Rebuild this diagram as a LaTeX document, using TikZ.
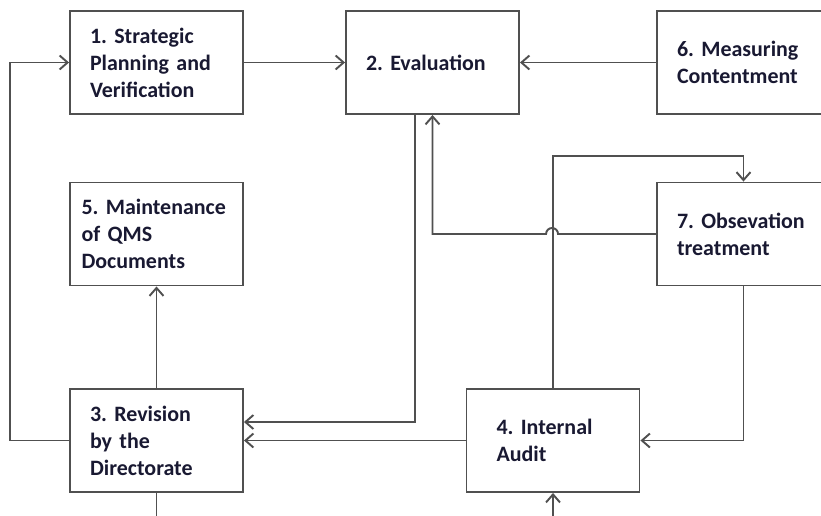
\documentclass[tikz,border=0pt]{standalone}
\usepackage{fontspec}
\setmainfont{Carlito}
\usetikzlibrary{arrows.meta}
\definecolor{linegray}{RGB}{80,80,80}
\definecolor{textnavy}{RGB}{25,25,50}
\frenchspacing
\hyphenpenalty=10000

\begin{document}
\begin{tikzpicture}[
  x=0.02cm, y=-0.02cm,
  box/.style={rectangle, draw=linegray, line width=1.1pt, align=left, text width=2.66cm, inner xsep=0.4cm, minimum height=2.06cm, font=\bfseries\fontsize{12.5}{15.3}\selectfont, text=textnavy},
  arr/.style={-{Straight Barb[length=1.6mm,width=2.8mm]}, line width=1.1pt, draw=linegray},
  line/.style={line width=1.1pt, draw=linegray}
]
\useasboundingbox (0,0) rectangle (821,515);
\clip (0,0) rectangle (821,515);

\node[box] (plan) at (156.5,62.5) {1. Strategic\\Planning and\\Verification};
\node[box] (eval) at (432.5,62.5) {2. Evaluation};
\node[box] (measure) at (743.5,62.5) {6. Measuring\\Contentment};
\node[box, text width=3cm, inner xsep=0.23cm] (docs) at (156.5,234) {5. Maintenance\\of QMS\\Documents};
\node[box] (treat) at (743.5,234) {7. Obsevation\\treatment};
\node[box] (review) at (156.5,440.5) {3. Revision\\by the\\Directorate};
\node[box, text width=2.26cm, inner xsep=0.6cm] (audit) at (553,440.5) {4. Internal\\Audit};
\coordinate (outA) at (156.5,530);
\coordinate (outB) at (553,530);

\draw[arr] (review.west) -- ++(-59,0) |- (plan.west);
\draw[arr] (plan) -- (eval);
\draw[arr] (measure) -- (eval);
\draw[arr] ([xshift=-0.35cm]eval.south) |- ([yshift=0.37cm]review.east);
\draw[arr] (treat.west) -- ++(-98,0) arc[start angle=0, end angle=180, radius=0.12cm] -| (eval.south);
\draw[arr] (audit.north) -- ++(0,-232) -| (treat.north);
\draw[arr] (treat.south) |- (audit.east);
\draw[arr] (audit.west) -- (review.east);
\draw[arr] (review.north) -- (docs.south);
\draw[line] (review.south) -- (outA);
\draw[arr] (outB) -- (audit.south);
\end{tikzpicture}
\end{document}
